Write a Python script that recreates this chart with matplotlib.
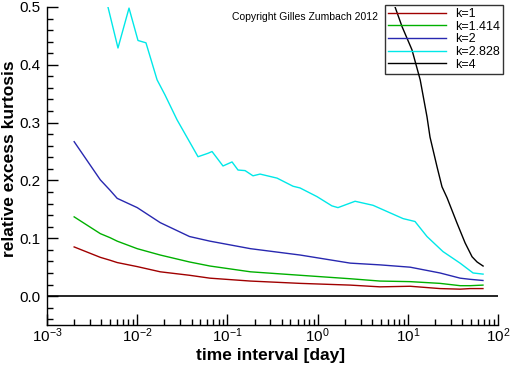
import numpy as np
import matplotlib
matplotlib.use("Agg")
import matplotlib.pyplot as plt
from matplotlib.ticker import MultipleLocator, LogLocator, FixedLocator

plt.rcParams["font.family"] = ["Liberation Sans", "DejaVu Sans"]
plt.rcParams["mathtext.fontset"] = "custom"
plt.rcParams["mathtext.rm"] = "Liberation Sans"
plt.rcParams["mathtext.default"] = "regular"

# time interval [day] for the k=1, 1.414, 2 series
t_low = [0.002, 0.0039, 0.005, 0.006, 0.01, 0.018, 0.038, 0.064, 0.18, 0.64,
         2.3, 4.9, 10.6, 22.7, 38, 49, 68]
k1 = [0.085, 0.067, 0.062, 0.058, 0.051, 0.042, 0.036, 0.031, 0.026, 0.022,
      0.019, 0.016, 0.017, 0.013, 0.012, 0.013, 0.013]
k1414 = [0.137, 0.108, 0.101, 0.095, 0.082, 0.071, 0.059, 0.052, 0.042, 0.036,
         0.030, 0.026, 0.025, 0.022, 0.018, 0.018, 0.019]
k2 = [0.267, 0.201, 0.183, 0.169, 0.153, 0.127, 0.103, 0.095, 0.082, 0.071,
      0.057, 0.054, 0.050, 0.040, 0.031, 0.029, 0.027]

t_k2828 = [0.00387, 0.00474, 0.00612, 0.00811, 0.0102, 0.0125, 0.0166, 0.0203,
           0.0276, 0.0472, 0.061, 0.0675, 0.0893, 0.1125, 0.131, 0.157, 0.192,
           0.230, 0.355, 0.533, 0.638, 0.984, 1.44, 1.68, 2.60, 4.11, 8.85,
           12.0, 16.3, 24.5, 37.9, 52.8, 68.2]
k2828 = [0.56, 0.50, 0.429, 0.498, 0.442, 0.438, 0.374, 0.348, 0.305, 0.241,
         0.247, 0.250, 0.225, 0.232, 0.218, 0.217, 0.208, 0.211, 0.204, 0.190,
         0.187, 0.172, 0.156, 0.153, 0.164, 0.157, 0.134, 0.129, 0.103, 0.077,
         0.057, 0.040, 0.038]

t_k4 = [6.03, 7.21, 8.62, 11.1, 13.7, 16.3, 17.6, 21.1, 23.9, 27.2, 35.1,
        43.1, 51.5, 58.5, 68.2]
k4 = [0.535, 0.50, 0.466, 0.426, 0.374, 0.31, 0.275, 0.223, 0.189, 0.170,
      0.126, 0.092, 0.068, 0.059, 0.052]

series = [
    (t_low, k1, "k=1", "#a00000"),
    (t_low, k1414, "k=1.414", "#00b000"),
    (t_low, k2, "k=2", "#2828b0"),
    (t_k2828, k2828, "k=2.828", "#00e8e8"),
    (t_k4, k4, "k=4", "black"),
]

fig = plt.figure(figsize=(5.12, 3.66), dpi=100)
ax = fig.add_axes([0.0918, 0.112, 0.881, 0.869])

for t, v, lab, col in series:
    ax.plot(t, v, color=col, lw=1.0, label=lab)

ax.axhline(0.0, color="black", lw=1.2)

ax.set_xscale("log")
ax.set_xlim(1e-3, 1e2)
ax.set_ylim(-0.05, 0.5)

ax.xaxis.set_major_locator(FixedLocator([1e-3, 1e-2, 1e-1, 1, 10, 100]))
ax.set_xticklabels([r"$10^{-3}$", r"$10^{-2}$", r"$10^{-1}$", r"$10^{0}$",
                    r"$10^{1}$", r"$10^{2}$"])
ax.xaxis.set_minor_locator(LogLocator(base=10, subs=np.arange(2, 10), numticks=20))
ax.yaxis.set_major_locator(FixedLocator([0.0, 0.1, 0.2, 0.3, 0.4, 0.5]))
ax.yaxis.set_minor_locator(MultipleLocator(0.02))
ax.set_yticklabels(["0.0", "0.1", "0.2", "0.3", "0.4", "0.5"])

ax.tick_params(which="both", direction="in", top=False, right=False,
               labelsize=11, width=1)
ax.tick_params(which="major", length=8)
ax.tick_params(axis="y", which="major", pad=5)
ax.tick_params(axis="x", which="major", pad=1)
ax.tick_params(which="minor", length=4)

for s in ["top", "right"]:
    ax.spines[s].set_visible(False)
for s in ["left", "bottom"]:
    ax.spines[s].set_linewidth(1.0)

# axis titles placed by hand so they sit where the original has them
fig.text(0.529, 1 - 360 / 366, "time interval [day]", fontsize=12.5,
         fontweight="bold", ha="center", va="baseline")
fig.text(0.019, 1 - 159 / 366, "relative excess kurtosis", fontsize=12.5,
         fontweight="bold", ha="center", va="center", rotation=90)

fig.text(0.738, 0.953, "Copyright Gilles Zumbach 2012", fontsize=7.5,
         ha="right", va="center")

leg = fig.legend(loc="upper right", bbox_to_anchor=(0.982, 0.986),
                 fontsize=9, frameon=True, fancybox=False, handlelength=4.6,
                 labelspacing=0.05, borderpad=0.25, handletextpad=0.7,
                 borderaxespad=0)
leg.get_frame().set_edgecolor("black")
leg.get_frame().set_facecolor("none")
leg.get_frame().set_linewidth(1.0)

fig.savefig("out.png", dpi=100)
